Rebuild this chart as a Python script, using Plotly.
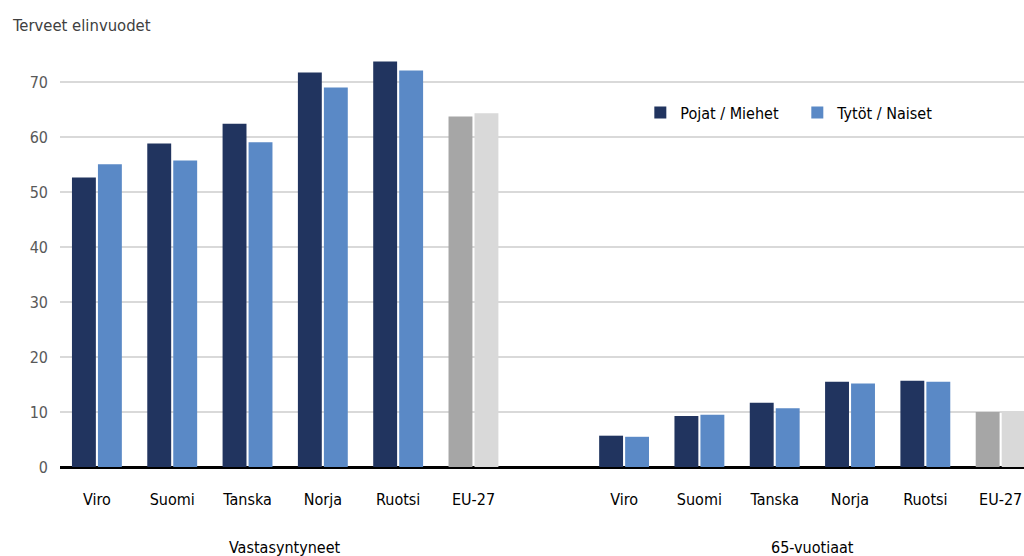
import plotly.graph_objects as go

countries = ["Viro", "Suomi", "Tanska", "Norja", "Ruotsi", "EU-27"]
groups = ["Vastasyntyneet", "65-vuotiaat"]

# healthy life years, newborns and at age 65
men_newborn = [52.7, 58.9, 62.5, 71.8, 73.8, 63.8]
women_newborn = [55.1, 55.8, 59.1, 69.1, 72.2, 64.4]
men_65 = [5.7, 9.3, 11.7, 15.5, 15.7, 10.0]
women_65 = [5.5, 9.5, 10.7, 15.2, 15.5, 10.0]

FONT = "DejaVu Sans Condensed, Liberation Sans Narrow, Roboto, sans-serif"
NAVY = "#21345f"
BLUE = "#5a89c6"
GREY_M = "#a6a6a6"
GREY_W = "#d9d9d9"

# slot positions: six countries, one empty slot, six countries
xpos = list(range(6)) + list(range(7, 13))
men = men_newborn + men_65
women = women_newborn + women_65
labels = countries + countries

men_colors = [GREY_M if c == "EU-27" else NAVY for c in labels]
women_colors = [GREY_W if c == "EU-27" else BLUE for c in labels]

fig = go.Figure()
fig.add_trace(go.Bar(x=xpos, y=men, name="Pojat / Miehet\u00a0\u00a0\u00a0",
                     marker={"color": men_colors, "line": {"width": 0}}))
fig.add_trace(go.Bar(x=xpos, y=women, name="Tytöt / Naiset",
                     marker={"color": women_colors, "line": {"width": 0}}))

fig.add_annotation(text="Terveet elinvuodet", x=0, xref="paper", xshift=-50,
                   y=1, yref="paper", yshift=30, xanchor="left", yanchor="middle",
                   showarrow=False, font={"size": 16.5, "color": "#404040", "family": FONT})
for name, cx in zip(groups, [2.5, 9.5]):
    fig.add_annotation(text=name, x=cx, xref="x", y=0, yref="paper", yshift=-80,
                       xanchor="center", yanchor="middle", showarrow=False,
                       font={"size": 16, "color": "#000", "family": FONT})

fig.update_layout(
    width=1024, height=556,
    plot_bgcolor="white", paper_bgcolor="white",
    margin={"l": 60, "r": 0, "t": 55, "b": 89},
    barmode="group", bargap=0.31, bargroupgap=0.08,
    font={"family": FONT, "size": 16, "color": "#000"},
    legend={"orientation": "h", "x": 0.602, "y": 0.86, "xanchor": "left", "yanchor": "middle",
            "bgcolor": "rgba(0,0,0,0)", "font": {"size": 16, "color": "#000"},
            "traceorder": "normal", "itemwidth": 30},
    xaxis={"tickvals": xpos, "ticktext": labels, "range": [-0.49, 12.31],
           "showgrid": False, "ticks": "", "ticklabelstandoff": 21,
           "tickfont": {"size": 16, "color": "#000"}},
    yaxis={"range": [0, 75], "tickvals": [0, 10, 20, 30, 40, 50, 60, 70],
           "showgrid": True, "gridcolor": "#d9d9d9", "gridwidth": 1.5,
           "zeroline": True, "zerolinecolor": "#000", "zerolinewidth": 3,
           "ticklabelstandoff": 11, "tickfont": {"size": 16, "color": "#595959"}},
    showlegend=True,
)

# drop the default 8px body margin so the figure fills the window exactly
fig.write_html("out.html", config={"displayModeBar": False},
               post_script="document.body.style.margin='0';")
